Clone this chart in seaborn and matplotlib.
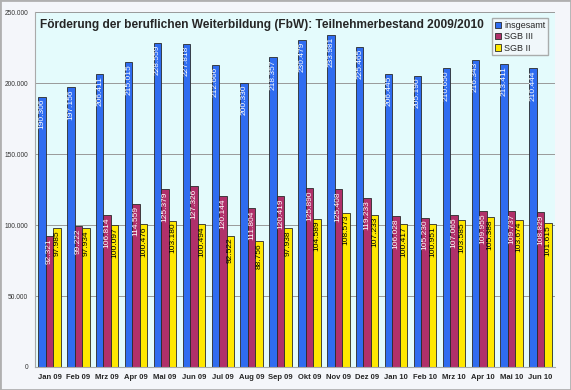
import pandas as pd
import matplotlib
matplotlib.use("Agg")
import matplotlib.pyplot as plt
import seaborn as sb

monate = ["Jan 09", "Feb 09", "Mrz 09", "Apr 09", "Mai 09", "Jun 09", "Jul 09", "Aug 09", "Sep 09",
          "Okt 09", "Nov 09", "Dez 09", "Jan 10", "Feb 10", "Mrz 10", "Apr 10", "Mai 10", "Jun 10"]
insgesamt = [190306, 197156, 206411, 215015, 228559, 227818, 212666, 200330, 218357,
             230479, 233981, 225465, 206445, 205190, 210650, 216343, 213411, 210444]
sgb3 = [92321, 99222, 106814, 114559, 125379, 127326, 120144, 111804, 120419,
        125890, 125408, 119233, 106028, 105230, 107065, 109955, 109737, 108829]
sgb2 = [97985, 97934, 100097, 100476, 103180, 100494, 92522, 88756, 97938,
        104589, 108573, 107233, 100417, 100951, 103585, 105388, 103674, 101615]

reihen = ["insgesamt", "SGB III", "SGB II"]
farben = ["#2f6cf0", "#b0306a", "#ffe800"]
textfarben = ["white", "white", "black"]

df = pd.DataFrame({
    "Monat": monate * 3,
    "Reihe": [reihen[0]] * 18 + [reihen[1]] * 18 + [reihen[2]] * 18,
    "Wert": insgesamt + sgb3 + sgb2,
})

def fmt(v):
    return f"{int(round(v)):,}".replace(",", ".")

sb.set_style("white")
plt.rcParams["font.family"] = ["Liberation Sans", "DejaVu Sans"]
fig = plt.figure(figsize=(5.71, 3.90), dpi=100, facecolor="#f4f6fa")
ax = fig.add_axes([0.0613, 0.059, 0.9107, 0.910])
ax.set_facecolor("#e4fbfc")

sb.barplot(data=df, x="Monat", y="Wert", hue="Reihe", hue_order=reihen, palette=farben,
           width=0.78, edgecolor="#2a2a2a", linewidth=0.6, saturation=1, ax=ax, legend=False)

# Werte senkrecht in die Balken schreiben
for cont, tf in zip(ax.containers, textfarben):
    for bar in cont:
        h = bar.get_height()
        ax.text(bar.get_x() + bar.get_width() / 2, h - 1500, fmt(h), rotation=90,
                ha="center", va="top", fontsize=6, color=tf)

ax.set_ylim(0, 250000)
ax.set_xlim(-0.5, len(monate) - 0.5)
ax.set_yticks(range(0, 250001, 50000))
ax.set_yticklabels([fmt(t) for t in range(0, 250001, 50000)], fontsize=4.8, color="#333333")
ax.yaxis.grid(True, color="#999999", linewidth=0.7)
ax.set_axisbelow(True)
ax.tick_params(axis="x", labelsize=5.5, length=2, color="#999999", pad=3)
ax.tick_params(axis="y", length=3, color="#999999", pad=2)
for lbl in ax.get_xticklabels():
    lbl.set_fontweight("bold")
ax.set_xlabel("")
ax.set_ylabel("")
for s in ["top", "right"]:
    ax.spines[s].set_visible(False)
for s in ["left", "bottom"]:
    ax.spines[s].set_color("#aaaaaa")

ax.text(0.01, 0.98, "Förderung der beruflichen Weiterbildung (FbW): Teilnehmerbestand 2009/2010",
        transform=ax.transAxes, fontsize=8.6, fontweight="bold", va="top", ha="left")

handles = [plt.Rectangle((0, 0), 1, 1, facecolor=c, edgecolor="#2a2a2a", linewidth=0.6) for c in farben]
leg = ax.legend(handles, reihen, loc="upper right", bbox_to_anchor=(0.995, 0.995), fontsize=6.5,
                handlelength=0.7, handleheight=0.7, handletextpad=0.3, borderpad=0.3,
                labelspacing=0.25, frameon=True, fancybox=False)
leg.get_frame().set_edgecolor("#999999")
leg.get_frame().set_facecolor("#f4f6fa")

fig.patches.append(plt.Rectangle((0, 0), 1, 1, transform=fig.transFigure, fill=False,
                                 edgecolor="#b0b0b0", linewidth=2))
fig.savefig("out.png", dpi=100, facecolor=fig.get_facecolor())
